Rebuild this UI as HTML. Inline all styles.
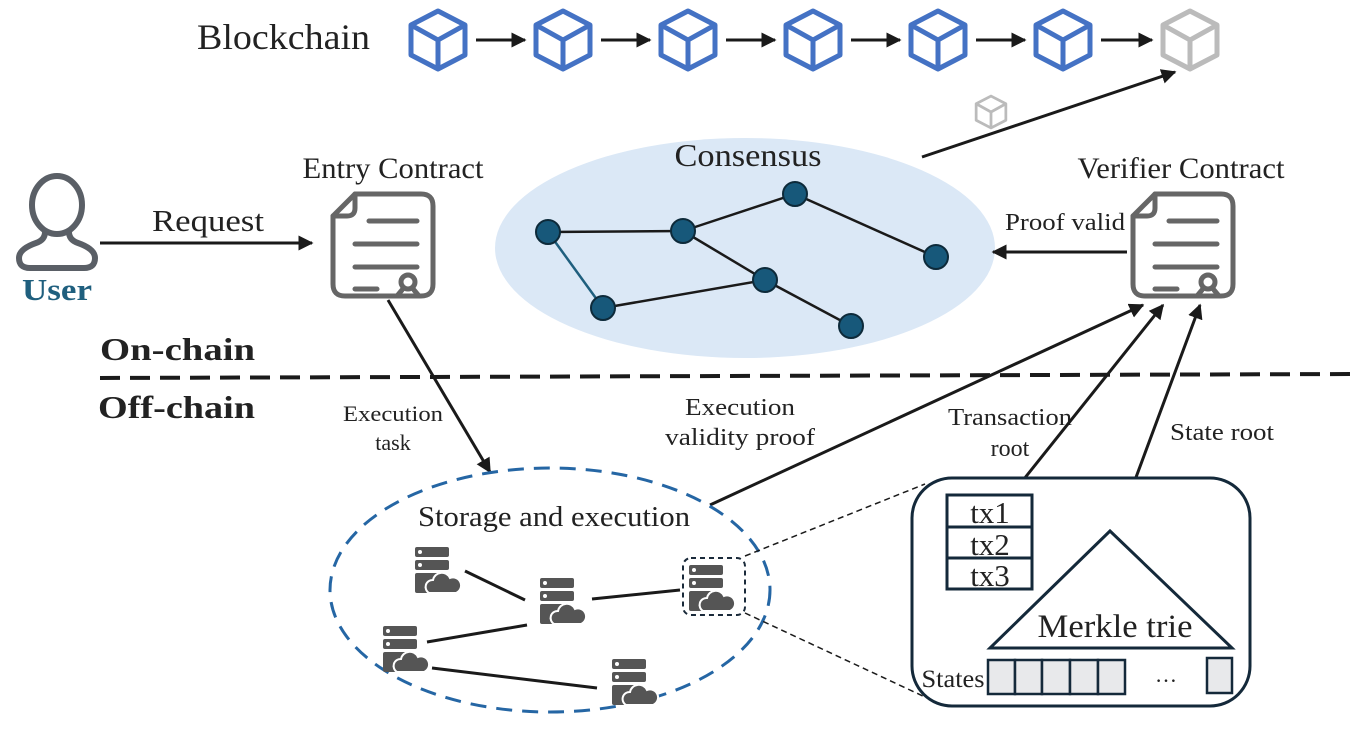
<!DOCTYPE html>
<html><head><meta charset="utf-8"><style>
body{margin:0;background:#fff}
svg{display:block;font-family:"Liberation Serif",serif}
</style></head><body>
<svg width="1355" height="738" viewBox="0 0 1355 738" xmlns="http://www.w3.org/2000/svg">
<defs>
<marker id="a" viewBox="0 0 10 10" refX="9" refY="5" markerWidth="5" markerHeight="5" orient="auto"><path d="M0,0L10,5L0,10z" fill="#1a1a1a"/></marker>
<g id="cube" fill="none" stroke-width="5" stroke-linejoin="round">
<path d="M0,-29L27,-15L27,15L0,29L-27,15L-27,-15Z"/><path d="M-27,-15L0,0L27,-15M0,0L0,29"/>
</g>
<g id="doc" fill="none" stroke="#666" stroke-width="5" stroke-linecap="round" stroke-linejoin="round">
<path d="M22,0H88Q100,0 100,12V90Q100,102 88,102H12Q0,102 0,90V22Z"/>
<path d="M22,0V14Q22,22 14,22H0"/>
<path d="M36,27H84M22,50H84M22,73H84M22,95H44"/>
<circle cx="75" cy="88" r="7"/><path d="M69,96L64,102M81,96L86,102"/>
</g>
<g id="srv">
<rect x="0" y="0" width="34" height="10" rx="2" fill="#555"/><rect x="0" y="13" width="34" height="10" rx="2" fill="#555"/>
<circle cx="5" cy="5" r="2" fill="#fff"/><circle cx="5" cy="18" r="2" fill="#fff"/>
<rect x="0" y="26" width="30" height="20" rx="2" fill="#555"/>
<path d="M14,46a7,7 0 0 1 4,-13a9,9 0 0 1 17,-2a7,7 0 0 1 6,15z" fill="#555" stroke="#fff" stroke-width="2"/>
</g>
</defs>

<text x="197" y="49" font-size="36" fill="#222" textLength="173" lengthAdjust="spacingAndGlyphs">Blockchain</text>
<g stroke="#4472c4"><use href="#cube" x="438" y="40"/><use href="#cube" x="563" y="40"/><use href="#cube" x="688" y="40"/><use href="#cube" x="813" y="40"/><use href="#cube" x="938" y="40"/><use href="#cube" x="1063" y="40"/></g>
<g stroke="#bbb"><use href="#cube" x="1190" y="40"/></g>
<g stroke="#1a1a1a" stroke-width="3" marker-end="url(#a)">
<line x1="476" y1="40" x2="525" y2="40"/><line x1="601" y1="40" x2="650" y2="40"/><line x1="726" y1="40" x2="775" y2="40"/><line x1="851" y1="40" x2="900" y2="40"/><line x1="976" y1="40" x2="1025" y2="40"/><line x1="1101" y1="40" x2="1152" y2="40"/>
</g>
<g stroke="#bbb" transform="translate(991,112) scale(0.55)"><use href="#cube"/></g>

<ellipse cx="745" cy="248" rx="250" ry="110" fill="#dbe8f6"/>
<text x="748" y="166" font-size="32" text-anchor="middle" fill="#222" textLength="147" lengthAdjust="spacingAndGlyphs">Consensus</text>
<g stroke="#1a1a1a" stroke-width="2.5">
<line x1="548" y1="232" x2="683" y2="231"/><line x1="683" y1="231" x2="795" y2="194"/><line x1="795" y1="194" x2="936" y2="257"/><line x1="683" y1="231" x2="765" y2="280"/><line x1="603" y1="308" x2="765" y2="280"/><line x1="765" y1="280" x2="851" y2="326"/>
<line x1="548" y1="232" x2="603" y2="308" stroke="#1f5f7e"/>
</g>
<g fill="#17587a" stroke="#0d2a3a" stroke-width="2">
<circle cx="548" cy="232" r="12"/><circle cx="683" cy="231" r="12"/><circle cx="795" cy="194" r="12"/><circle cx="936" cy="257" r="12"/><circle cx="765" cy="280" r="12"/><circle cx="603" cy="308" r="12"/><circle cx="851" cy="326" r="12"/>
</g>
<line x1="922" y1="157" x2="1175" y2="72" stroke="#1a1a1a" stroke-width="3" marker-end="url(#a)"/>

<g fill="none" stroke="#5a5f66" stroke-width="6">
<ellipse cx="57" cy="205" rx="25" ry="29"/>
<path d="M45,232Q45,240 36,243Q19,249 19,258Q19,268 30,268H84Q95,268 95,258Q95,249 78,243Q69,240 69,232"/>
</g>
<text x="57" y="300" font-size="31" font-weight="bold" text-anchor="middle" fill="#1f5f7e" textLength="70" lengthAdjust="spacingAndGlyphs">User</text>
<text x="208" y="231" font-size="31" text-anchor="middle" fill="#222" textLength="112" lengthAdjust="spacingAndGlyphs">Request</text>
<line x1="100" y1="243" x2="312" y2="243" stroke="#1a1a1a" stroke-width="3" marker-end="url(#a)"/>

<text x="393" y="178" font-size="30" text-anchor="middle" fill="#222" textLength="181" lengthAdjust="spacingAndGlyphs">Entry Contract</text>
<use href="#doc" x="333" y="194"/>
<text x="1181" y="178" font-size="30" text-anchor="middle" fill="#222" textLength="207" lengthAdjust="spacingAndGlyphs">Verifier Contract</text>
<use href="#doc" x="1133" y="194"/>
<text x="1065" y="230" font-size="24" text-anchor="middle" fill="#222" textLength="120" lengthAdjust="spacingAndGlyphs">Proof valid</text>
<line x1="1127" y1="252" x2="993" y2="252" stroke="#1a1a1a" stroke-width="3" marker-end="url(#a)"/>

<text x="100" y="360" font-size="32" font-weight="bold" fill="#222" textLength="155" lengthAdjust="spacingAndGlyphs">On-chain</text>
<line x1="100" y1="378" x2="1355" y2="374" stroke="#1a1a1a" stroke-width="4" stroke-dasharray="20,10"/>
<text x="98" y="418" font-size="32" font-weight="bold" fill="#222" textLength="157" lengthAdjust="spacingAndGlyphs">Off-chain</text>

<text x="393" y="421" font-size="22" text-anchor="middle" fill="#222" textLength="100" lengthAdjust="spacingAndGlyphs">Execution</text>
<text x="393" y="450" font-size="22" text-anchor="middle" fill="#222">task</text>
<line x1="388" y1="300" x2="490" y2="472" stroke="#1a1a1a" stroke-width="3" marker-end="url(#a)"/>

<text x="740" y="415" font-size="24" text-anchor="middle" fill="#222" textLength="110" lengthAdjust="spacingAndGlyphs">Execution</text>
<text x="740" y="445" font-size="24" text-anchor="middle" fill="#222" textLength="150" lengthAdjust="spacingAndGlyphs">validity proof</text>
<line x1="710" y1="505" x2="1143" y2="305" stroke="#1a1a1a" stroke-width="3" marker-end="url(#a)"/>
<text x="1010" y="425" font-size="24" text-anchor="middle" fill="#222" textLength="124" lengthAdjust="spacingAndGlyphs">Transaction</text>
<text x="1010" y="456" font-size="24" text-anchor="middle" fill="#222">root</text>
<line x1="1012" y1="494" x2="1163" y2="305" stroke="#1a1a1a" stroke-width="3" marker-end="url(#a)"/>
<text x="1222" y="440" font-size="24" text-anchor="middle" fill="#222" textLength="104" lengthAdjust="spacingAndGlyphs">State root</text>
<path d="M1110,531L1135,480Q1165,400 1200,305" fill="none" stroke="#1a1a1a" stroke-width="3" marker-end="url(#a)"/>

<ellipse cx="550" cy="590" rx="220" ry="122" fill="none" stroke="#2566a4" stroke-width="3" stroke-dasharray="16,10"/>
<text x="554" y="526" font-size="29" text-anchor="middle" fill="#222" textLength="272" lengthAdjust="spacingAndGlyphs">Storage and execution</text>
<g stroke="#1a1a1a" stroke-width="3">
<line x1="465" y1="571" x2="525" y2="600"/><line x1="592" y1="599" x2="680" y2="590"/><line x1="427" y1="642" x2="527" y2="625"/><line x1="432" y1="668" x2="597" y2="688"/>
</g>
<use href="#srv" x="415" y="547"/><use href="#srv" x="540" y="578"/><use href="#srv" x="383" y="626"/><use href="#srv" x="612" y="659"/><use href="#srv" x="689" y="565"/>
<rect x="683" y="558" width="62" height="57" rx="8" fill="none" stroke="#1a2a3a" stroke-width="2" stroke-dasharray="5,4"/>
<g stroke="#1a1a1a" stroke-width="1.5" stroke-dasharray="6,4"><line x1="745" y1="556" x2="925" y2="484"/><line x1="745" y1="613" x2="925" y2="697"/></g>

<rect x="912" y="478" width="338" height="228" rx="40" fill="#fff" stroke="#14293a" stroke-width="3"/>
<g fill="#fff" stroke="#14293a" stroke-width="3"><rect x="947" y="495" width="85" height="94"/><line x1="947" y1="527" x2="1032" y2="527"/><line x1="947" y1="558" x2="1032" y2="558"/></g>
<g font-size="31" text-anchor="middle" fill="#222"><text x="990" y="523">tx1</text><text x="990" y="555">tx2</text><text x="990" y="586">tx3</text></g>
<path d="M1110,531L990,648H1232Z" fill="#fff" stroke="#14293a" stroke-width="3"/>
<text x="1115" y="637" font-size="33" text-anchor="middle" fill="#222" textLength="155" lengthAdjust="spacingAndGlyphs">Merkle trie</text>
<g fill="#e8e9eb" stroke="#14293a" stroke-width="2.5"><rect x="988" y="660" width="27" height="34"/><rect x="1015" y="660" width="27" height="34"/><rect x="1042" y="660" width="28" height="34"/><rect x="1070" y="660" width="28" height="34"/><rect x="1098" y="660" width="27" height="34"/><rect x="1207" y="658" width="25" height="35"/></g>
<text x="1166" y="682" font-size="22" text-anchor="middle" fill="#222">…</text>
<text x="953" y="687" font-size="25" text-anchor="middle" fill="#222" textLength="63" lengthAdjust="spacingAndGlyphs">States</text>
</svg>
</body></html>
